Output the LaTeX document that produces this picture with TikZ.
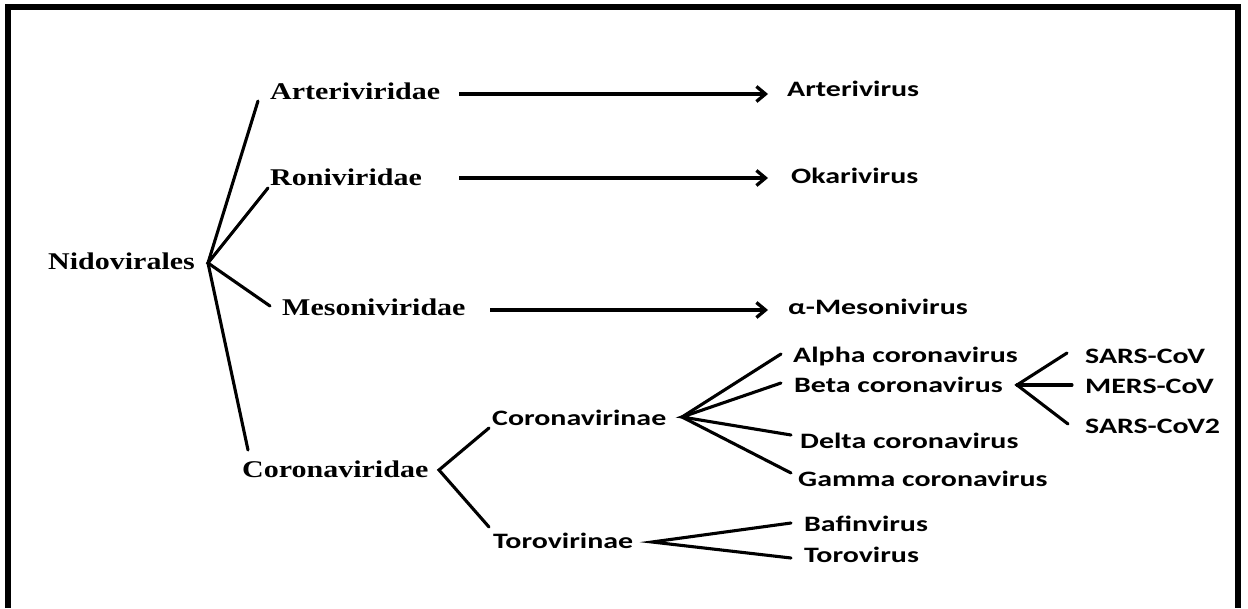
\documentclass[tikz,border=0pt]{standalone}
\usepackage{fontspec}
\setmainfont{Liberation Serif}
\newfontfamily\serifwide{Liberation Serif}[FakeStretch=1.25]
\newfontfamily\sanswide{Carlito}[FakeStretch=1.36]
\usetikzlibrary{arrows.meta}
\begin{document}
\begin{tikzpicture}[x=1pt,y=-1pt,
  fam/.style={font=\serifwide\bfseries\fontsize{24}{27}\selectfont, inner sep=0pt, anchor=base west},
  gen/.style={font=\sanswide\bfseries\fontsize{22}{25}\selectfont, inner sep=0pt, anchor=base west},
  link/.style={line width=3.1pt, line cap=round},
  arr/.style={line width=3.3pt, -{Straight Barb[length=9pt,width=15pt]}},
  frame/.style={line width=6pt}]
\useasboundingbox (0,0) rectangle (1248,608);
\draw[frame] (8,608) -- (8,7) -- (1238,7) -- (1238,608);

% family level (serif)
\node[fam] (nid)  at (48,269)  {Nidovirales};
\node[fam] (arte) at (270,99)  {Arteriviridae};
\node[fam] (roni) at (270,185) {Roniviridae};
\node[fam] (meso) at (282,315) {Mesoniviridae};
\node[fam] (corf) at (242,477) {Coronaviridae};

% genus level (sans)
\node[gen] (arteV)  at (787,96)   {Arterivirus};
\node[gen] (okaV)   at (791,183)  {Okarivirus};
\node[gen] (mesoV)  at (788,314)  {α-Mesonivirus};
\node[gen] (corsub) at (492,425)  {Coronavirinae};
\node[gen] (torsub) at (493,548)  {Torovirinae};
\node[gen] (alpha)  at (793,362)  {Alpha coronavirus};
\node[gen] (beta)   at (794,392)  {Beta coronavirus};
\node[gen] (delta)  at (800,448)  {Delta coronavirus};
\node[gen] (gamma)  at (798,486)  {Gamma coronavirus};
\node[gen] (bafin)  at (804,531)  {Bafinvirus};
\node[gen] (torov)  at (804,562)  {Torovirus};
\node[gen] (sars)   at (1085,363) {SARS-CoV};
\node[gen] (mers)   at (1085,393) {MERS-CoV};
\node[gen] (sars2)  at (1085,433) {SARS-CoV2};

% junction and end coordinates
\coordinate (jNid)  at (208,263);
\coordinate (eArte) at (258,101);
\coordinate (eRoni) at (268,188);
\coordinate (eMeso) at (270,306);
\coordinate (eCorf) at (248,450);

\coordinate (sA1) at (459,94);  \coordinate (tA1) at (768,94);
\coordinate (sA2) at (459,178); \coordinate (tA2) at (768,178);
\coordinate (sA3) at (490,310); \coordinate (tA3) at (768,310);

\coordinate (jCorf)   at (439,470);
\coordinate (eCorsub) at (489,428);
\coordinate (eTorsub) at (489,527);

\coordinate (jCorsub) at (682,417);
\coordinate (eAlpha)  at (781,354);
\coordinate (eBeta)   at (781,383);
\coordinate (eDelta)  at (791,435);
\coordinate (eGamma)  at (791,473);

\coordinate (jTorsub) at (652,542);
\coordinate (eBafin)  at (791,523);
\coordinate (eTorov)  at (791,558);

\coordinate (jBeta)  at (1017,385);
\coordinate (eSars)  at (1067,353);
\coordinate (eMers)  at (1072,385);
\coordinate (eSars2) at (1068,424);

% connectors
\draw[link] (eArte) -- (jNid) -- (eCorf);
\draw[link] (eRoni) -- (jNid) -- (eMeso);

\draw[arr] (sA1) -- (tA1);
\draw[arr] (sA2) -- (tA2);
\draw[arr] (sA3) -- (tA3);

\draw[link] (eCorsub) -- (jCorf) -- (eTorsub);
\draw[link] (eAlpha) -- (jCorsub) -- (eGamma);
\draw[link] (eBeta) -- (jCorsub) -- (eDelta);
\draw[link] (eBafin) -- (jTorsub) -- (eTorov);
\draw[link] (eSars) -- (jBeta) -- (eSars2);
\draw[link] (jBeta) -- (eMers);
\end{tikzpicture}
\end{document}
